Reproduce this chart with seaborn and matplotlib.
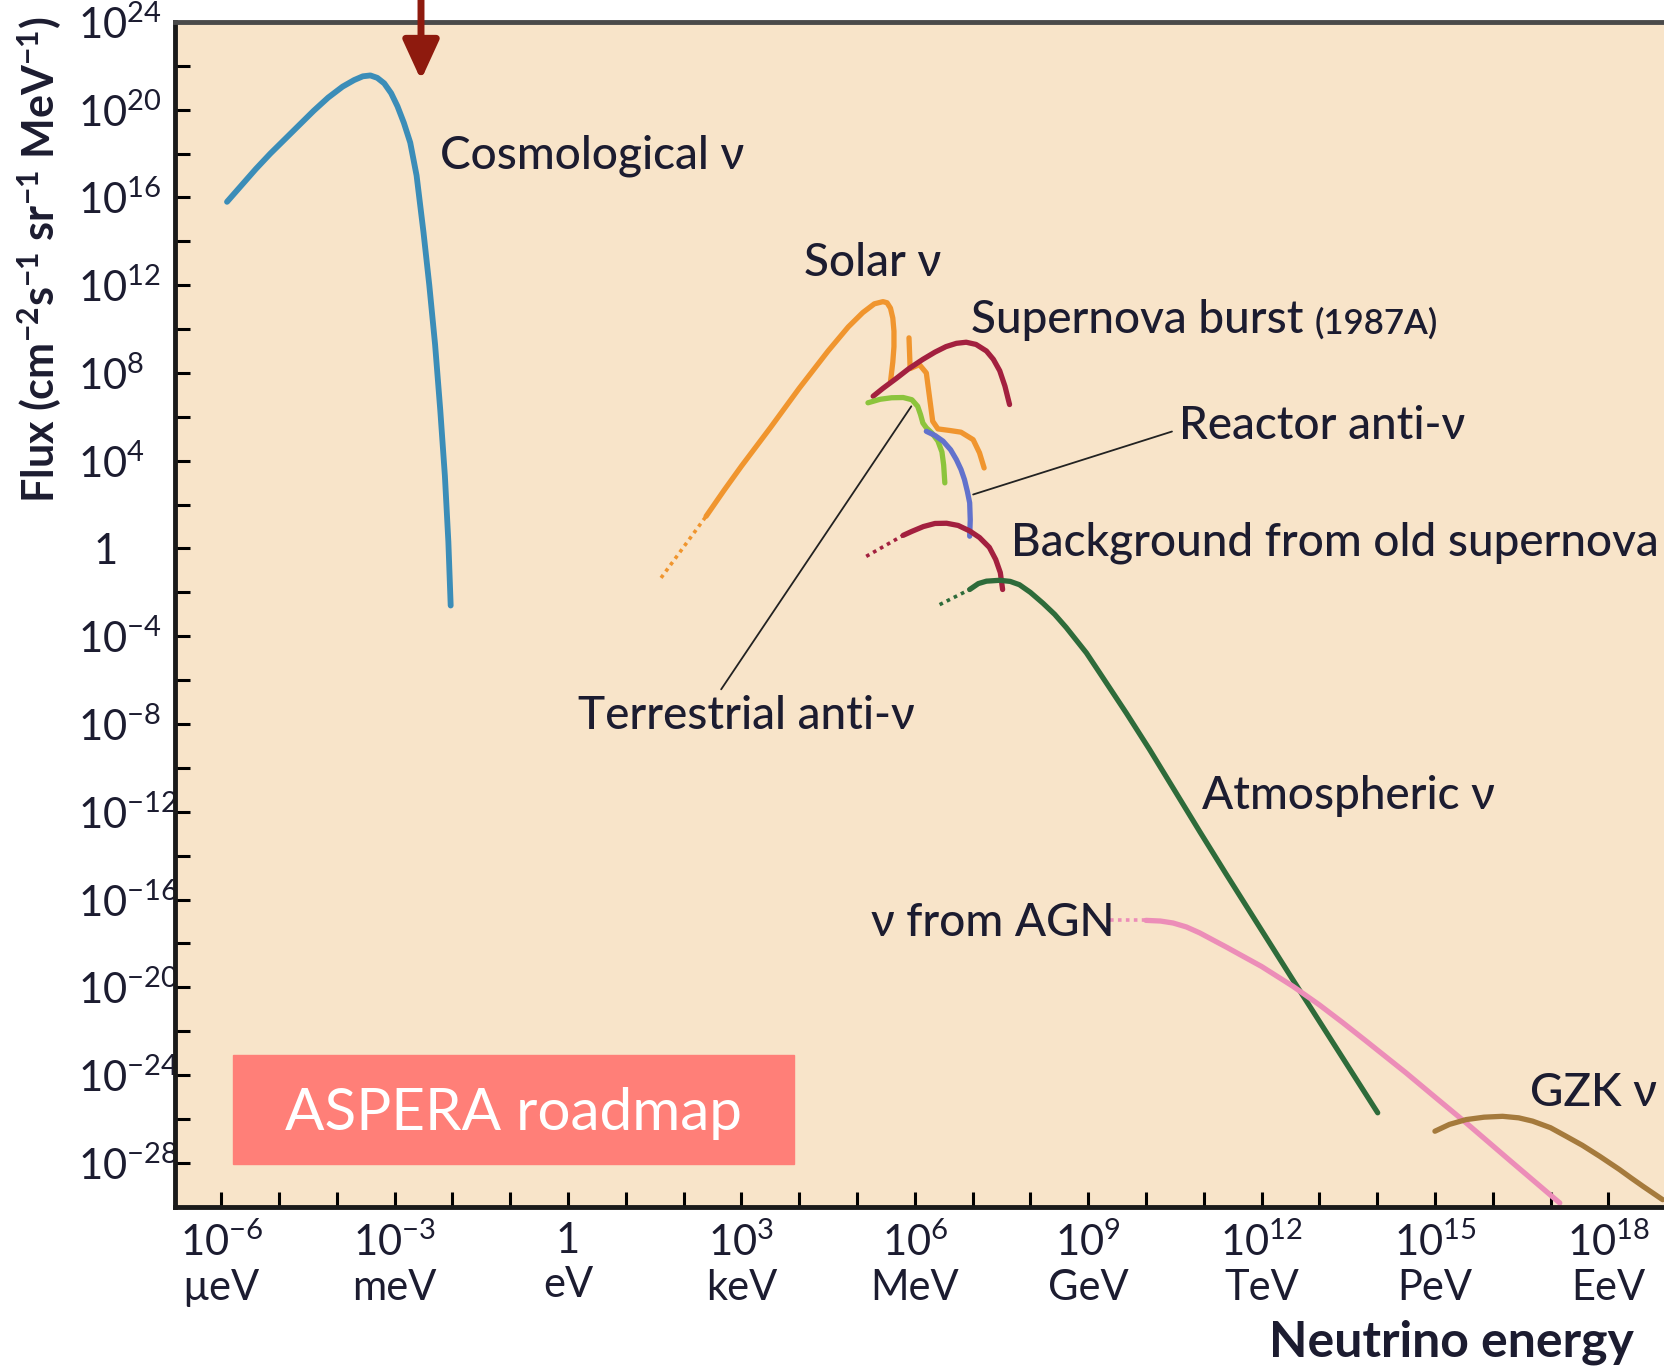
import numpy as np
import matplotlib
matplotlib.use('Agg')
import matplotlib.pyplot as plt
from matplotlib.ticker import FixedLocator, FixedFormatter, NullFormatter
from matplotlib.patches import Rectangle
from matplotlib.transforms import blended_transform_factory
import seaborn as sns

# values as log10: energy in eV, flux in cm^-2 s^-1 sr^-1 MeV^-1
cosmo_logE = [-5.9, -5.65, -5.4, -5.15, -4.9, -4.65, -4.4, -4.15, -3.9, -3.7, -3.55, -3.42,
              -3.3, -3.18, -3.06, -2.95, -2.84, -2.73, -2.62, -2.5, -2.4, -2.3, -2.21, -2.13,
              -2.07, -2.03]
cosmo_logF = [15.8, 16.55, 17.3, 18.0, 18.65, 19.3, 19.95, 20.55, 21.05, 21.35, 21.52, 21.56,
              21.45, 21.2, 20.75, 20.15, 19.4, 18.5, 17.0, 14.4, 12.0, 9.3, 6.3, 3.3,
              0.3, -2.6]

solar_dot_logE = [1.61, 2.39]
solar_dot_logF = [-1.34, 1.47]
solar_logE = [2.39, 2.7, 3.0, 3.5, 4.0, 4.5, 4.85, 5.1, 5.3, 5.45, 5.52, 5.58, 5.62, 5.64,
              5.64, 5.62, 5.58]
solar_logF = [1.47, 2.65, 3.75, 5.5, 7.3, 9.0, 10.1, 10.75, 11.15, 11.25, 11.2, 10.95, 10.5,
              9.9, 9.2, 8.5, 7.6]
solar2_logE = [5.9, 5.92, 6.08, 6.2, 6.26, 6.31, 6.4, 6.6, 6.8, 7.01, 7.12, 7.2]
solar2_logF = [9.6, 8.2, 8.38, 8.0, 6.8, 5.8, 5.45, 5.38, 5.3, 4.96, 4.36, 3.67]

sn_logE = [5.28, 5.45, 5.68, 5.9, 6.14, 6.35, 6.54, 6.72, 6.89, 7.06, 7.24, 7.36, 7.47,
           7.56, 7.64]
sn_logF = [6.94, 7.3, 7.75, 8.2, 8.62, 8.95, 9.2, 9.35, 9.4, 9.3, 9.0, 8.62, 8.1, 7.4, 6.56]

terr_logE = [5.19, 5.4, 5.6, 5.8, 5.95, 6.05, 6.1, 6.14, 6.2, 6.3, 6.4, 6.47, 6.5, 6.52]
terr_logF = [6.64, 6.8, 6.87, 6.88, 6.78, 6.48, 6.1, 5.72, 5.5, 5.25, 4.9, 4.4, 3.8, 2.99]

reac_logE = [6.2, 6.35, 6.49, 6.62, 6.72, 6.8, 6.86, 6.91, 6.95, 6.96, 6.95]
reac_logF = [5.34, 5.15, 4.89, 4.5, 4.05, 3.6, 3.14, 2.6, 2.08, 1.3, 0.56]

bg_dot_logE = [5.16, 5.5, 5.8]
bg_dot_logF = [-0.36, 0.15, 0.6]
bg_logE = [5.8, 5.95, 6.15, 6.35, 6.55, 6.75, 6.95, 7.12, 7.29, 7.4, 7.48, 7.52]
bg_logF = [0.6, 0.78, 1.0, 1.14, 1.15, 1.05, 0.8, 0.5, 0.05, -0.5, -1.1, -1.87]

atm_dot_logE = [6.43, 6.95]
atm_dot_logF = [-2.56, -1.87]
atm_logE = [6.95, 7.1, 7.24, 7.47, 7.65, 7.81, 8.0, 8.22, 8.42, 8.62, 8.97, 9.2, 9.66,
            10.06, 10.93, 11.39, 12.54, 13.23, 14.01]
atm_logF = [-1.87, -1.6, -1.49, -1.45, -1.5, -1.65, -2.0, -2.5, -3.0, -3.6, -4.76, -5.67,
            -7.5, -9.15, -12.9, -14.85, -19.65, -22.5, -25.72]

agn_dot_logE = [9.37, 10.0]
agn_dot_logF = [-16.95, -16.95]
agn_logE = [10.0, 10.25, 10.47, 10.7, 10.93, 11.2, 11.4, 11.62, 12.0, 12.54, 13.0, 13.4,
            13.81, 14.5, 15.0, 15.54, 16.3, 17.16]
agn_logF = [-16.95, -16.98, -17.07, -17.25, -17.52, -17.9, -18.18, -18.5, -19.05, -19.95,
            -20.8, -21.6, -22.45, -23.9, -25.0, -26.18, -27.9, -29.83]

gzk_logE = [15.0, 15.25, 15.54, 15.85, 16.17, 16.45, 16.69, 17.0, 17.27, 17.55, 17.85,
            18.19, 18.4, 18.6, 18.94]
gzk_logF = [-26.56, -26.25, -26.03, -25.92, -25.88, -25.95, -26.1, -26.4, -26.79, -27.2,
            -27.7, -28.3, -28.7, -29.07, -29.68]

# pointer lines from labels to curves
terr_ptr_logE = [2.65, 5.94]
terr_ptr_logF = [-6.42, 6.48]
reac_ptr_logE = [7.01, 10.45]
reac_ptr_logF = [2.46, 5.33]

labels = ['Cosmological ν', 'Solar ν', 'Supernova burst', 'Reactor anti-ν',
          'Background from old supernova', 'Terrestrial anti-ν', 'Atmospheric ν',
          'ν from AGN', 'GZK ν']
label_logE = [-2.21, 4.08, 6.98, 10.58, 7.66, 0.17, 10.97, 5.24, 16.64]
label_logF = [17.9, 13.02, 10.43, 5.57, 0.26, -7.63, -11.26, -17.06, -24.8]

x_tick_exp = [-6, -3, 0, 3, 6, 9, 12, 15, 18]
x_tick_units = ['µeV', 'meV', 'eV', 'keV', 'MeV', 'GeV', 'TeV', 'PeV', 'EeV']
y_tick_exp = list(range(-28, 25, 4))

sns.set_theme(style='ticks')
plt.rcParams['font.family'] = ['Lato', 'DejaVu Sans']
plt.rcParams['mathtext.fontset'] = 'custom'
plt.rcParams['mathtext.rm'] = 'Lato'
plt.rcParams['mathtext.bf'] = 'Lato:bold'
plt.rcParams['mathtext.it'] = 'Lato:italic'

txt = '#1c1c30'
fig = plt.figure(figsize=(16.64, 13.66), dpi=100)
ax = fig.add_axes([175 / 1664, 1 - 1206.7 / 1366, 1520 / 1664, 1184.8 / 1366])
ax.set_facecolor('#F8E4C9')


def curve(le, lf, color, lw=3.8, ls='-'):
    sns.lineplot(x=10.0 ** np.array(le), y=10.0 ** np.array(lf), ax=ax, color=color,
                 lw=lw, linestyle=ls, sort=False, estimator=None, legend=False,
                 solid_capstyle='round', solid_joinstyle='round')


dots = (0, (1, 1.2))
curve(cosmo_logE, cosmo_logF, '#3B8DB8', lw=4.2)
curve(solar_dot_logE, solar_dot_logF, '#F0952E', lw=2.6, ls=dots)
curve(solar_logE, solar_logF, '#F0952E')
curve(solar2_logE, solar2_logF, '#F0952E')
curve(sn_logE, sn_logF, '#A3203F')
curve(terr_logE, terr_logF, '#8CC43C')
curve(reac_logE, reac_logF, '#6272CC')
curve(bg_dot_logE, bg_dot_logF, '#A3203F', lw=2.6, ls=dots)
curve(bg_logE, bg_logF, '#A3203F')
curve(atm_dot_logE, atm_dot_logF, '#2E6B3A', lw=2.6, ls=dots)
curve(atm_logE, atm_logF, '#2E6B3A')
curve(agn_dot_logE, agn_dot_logF, '#EC8DB8', lw=2.6, ls=dots)
curve(agn_logE, agn_logF, '#EC8DB8')
curve(gzk_logE, gzk_logF, '#A57A3C')
curve(terr_ptr_logE, terr_ptr_logF, '#222222', lw=1.3)
curve(reac_ptr_logE, reac_ptr_logF, '#222222', lw=1.3)

ax.set_xscale('log')
ax.set_yscale('log')
ax.set_xlim(10 ** -6.8, 10 ** 19.5)
ax.set_ylim(1e-30, 1e24)

for s, le, lf in zip(labels, label_logE, label_logF):
    t = ax.text(10 ** le, 10 ** lf, s, ha='left', va='center', fontsize=33,
                fontweight='medium', color=txt)
    if s == 'Supernova burst':
        ax.annotate('(1987A)', xy=(1, 0.42), xycoords=t, xytext=(8, 0),
                    textcoords='offset points', ha='left', va='center',
                    fontsize=25, fontweight='semibold', color=txt)

# ticks
ax.xaxis.set_major_locator(FixedLocator([10.0 ** e for e in x_tick_exp]))
ax.xaxis.set_major_formatter(FixedFormatter(
    [('1' if e == 0 else f'$10^{{{e}}}$') + '\n' + u for e, u in zip(x_tick_exp, x_tick_units)]))
ax.xaxis.set_minor_locator(FixedLocator([10.0 ** e for e in range(-6, 20) if e % 3]))
ax.xaxis.set_minor_formatter(NullFormatter())
ax.yaxis.set_major_locator(FixedLocator([10.0 ** e for e in y_tick_exp]))
ax.yaxis.set_major_formatter(FixedFormatter(
    ['' if e == 0 else f'$10^{{{e}}}$' for e in y_tick_exp]))
ax.yaxis.set_minor_locator(FixedLocator([10.0 ** e for e in range(-26, 24, 4)]))
ax.yaxis.set_minor_formatter(NullFormatter())
ax.tick_params(which='both', direction='in', length=11, width=2.2, color='black')
ax.tick_params(axis='x', which='major', pad=11, labelsize=30, labelcolor=txt)
ax.tick_params(axis='y', which='major', pad=70, labelsize=30, labelcolor=txt)
for lbl in ax.get_yticklabels():
    lbl.set_horizontalalignment('left')
# the "1" label sits centred under the "10" of its neighbours
ax.text(106 / 1664, 1.0, '1', transform=blended_transform_factory(fig.transFigure, ax.transData),
        ha='center', va='center_baseline', fontsize=30, color=txt)

for side in ['left', 'bottom']:
    ax.spines[side].set_linewidth(3.5)
    ax.spines[side].set_color('#1a1a1a')
ax.spines['top'].set_linewidth(3.5)
ax.spines['top'].set_color('#4a4a4a')
ax.spines['right'].set_visible(False)

fig.text(40 / 1664, 1 - 260 / 1366,
         r'Flux (cm$^{\mathbf{-2}}$s$^{\mathbf{-1}}$ sr$^{\mathbf{-1}}$ MeV$^{\mathbf{-1}}$)',
         rotation=90, ha='center', va='center', fontsize=31, fontweight='bold', color=txt)
fig.text(1634 / 1664, 1 - 1342 / 1366, 'Neutrino energy', ha='right', va='center',
         fontsize=36, fontweight='bold', color=txt)

fig.add_artist(Rectangle((233.5 / 1664, 1 - 1164 / 1366), 560.5 / 1664, 109 / 1366,
                         transform=fig.transFigure, color='#FF7F78', zorder=5))
fig.text(513.7 / 1664, 1 - 1114 / 1366, 'ASPERA roadmap', color='white', fontsize=42,
         ha='center', va='center', zorder=6)

ax.annotate('', xy=(421, 1366 - 80), xytext=(421, 1400), xycoords='figure pixels',
            textcoords='figure pixels', annotation_clip=False,
            arrowprops=dict(arrowstyle='-|>,head_length=1.2,head_width=0.55', lw=5,
                            color='#8E1A0E', mutation_scale=20, shrinkA=0, shrinkB=0))

fig.savefig('out.png', dpi=100)
